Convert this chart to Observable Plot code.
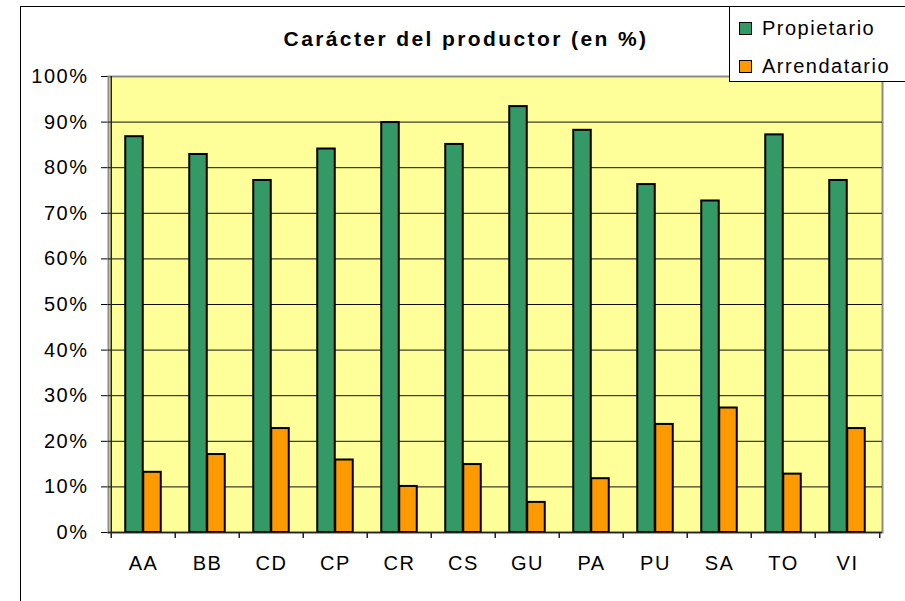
<!DOCTYPE html>
<html>
<head>
<meta charset="utf-8">
<script src="https://cdn.jsdelivr.net/npm/d3@7"></script>
<script src="https://cdn.jsdelivr.net/npm/@observablehq/plot@0.6"></script>
<style>
  body { margin: 0; background: #fff; }
  #wrap { position: relative; width: 905px; height: 601px; overflow: hidden; font-family: "Liberation Sans", Arial, sans-serif; }
  #wrap svg { position: absolute; left: 0; top: 0; }
  #border { position: absolute; left: 20px; top: 6px; width: 1000px; height: 1000px; border: 1.5px solid #000; box-sizing: border-box; }
  #title { position: absolute; left: 266px; width: 400px; top: 27px; text-align: center; font-weight: bold; font-size: 21px; letter-spacing: 2.4px; color: #000; }
  #legend { position: absolute; left: 729px; top: 6px; width: 200px; height: 76px; border: 1.5px solid #000; background: #fff; box-sizing: border-box; }
  .item { position: absolute; left: 9px; font-size: 20px; letter-spacing: 1.5px; line-height: 20px; }
  .sw { position: absolute; left: 0; width: 13px; height: 13px; border: 1.5px solid #000; box-sizing: border-box; }
</style>
</head>
<body>
<div id="wrap">
  <div id="border"></div>
</div>
<script>
const categories = ["AA","BB","CD","CP","CR","CS","GU","PA","PU","SA","TO","VI"];
const propietario = [86.8, 82.9, 77.2, 84.1, 89.9, 85.1, 93.4, 88.2, 76.3, 72.7, 87.2, 77.2];
const arrendatario = [13.2, 17.1, 22.8, 15.9, 10.1, 14.9, 6.6, 11.8, 23.7, 27.3, 12.8, 22.8];
const seriesNames = ["Propietario", "Arrendatario"];
const seriesColors = ["#339966", "#FF9900"];
const yTicks = [0,10,20,30,40,50,60,70,80,90,100];
const title = "Carácter del productor (en %)";

const data = categories.map((c, i) => ({cat: c, prop: propietario[i], arr: arrendatario[i]}));

const W = 905, H = 601, mL = 108, mR = 23, mT = 76, mB = 69;
const bw = (W - mL - mR) / categories.length;
const barW = 18;
const outer = (bw - 2 * barW) / 2;

const chart = Plot.plot({
  width: W, height: H,
  marginLeft: mL, marginRight: mR, marginTop: mT, marginBottom: mB,
  style: {fontFamily: "'Liberation Sans', Arial, sans-serif", fontSize: "20px", letterSpacing: "1.5px", color: "#000", background: "transparent"},
  x: {domain: categories, padding: 0, tickSize: 0, tickPadding: 23, label: null},
  y: {domain: [0, 100], ticks: yTicks, tickFormat: d => d + "%", tickSize: 7, tickPadding: 13, label: null},
  marks: [
    Plot.frame({fill: "#FFFF99", stroke: "#8c8c8c", strokeWidth: 2}),
    Plot.ruleY(yTicks.filter(d => d < 100), {stroke: "#111", strokeWidth: 1}),
    Plot.barY(data, {x: "cat", y: "prop", fill: seriesColors[0], stroke: "#000", strokeWidth: 2, insetLeft: outer, insetRight: outer + barW}),
    Plot.barY(data, {x: "cat", y: "arr", fill: seriesColors[1], stroke: "#000", strokeWidth: 2, insetLeft: outer + barW, insetRight: outer}),
    Plot.ruleX([categories[0]], {dx: -bw / 2, y1: 0, y2: 100, stroke: "#222", strokeWidth: 1.5}),
    Plot.ruleX(categories, {dx: -bw / 2, y1: 0, y2: 0, insetBottom: -6, stroke: "#222", strokeWidth: 1.5}),
    Plot.ruleX([categories[categories.length - 1]], {dx: bw / 2, y1: 0, y2: 0, insetBottom: -6, stroke: "#222", strokeWidth: 1.5}),
    Plot.ruleY([0], {stroke: "#222", strokeWidth: 1.5})
  ]
});

const wrap = document.getElementById("wrap");
wrap.appendChild(chart);

const t = document.createElement("div");
t.id = "title";
t.textContent = title;
wrap.appendChild(t);

const leg = document.createElement("div");
leg.id = "legend";
seriesNames.forEach((name, i) => {
  const it = document.createElement("div");
  it.className = "item";
  it.style.top = (11 + i * 38) + "px";
  const sw = document.createElement("span");
  sw.className = "sw";
  sw.style.background = seriesColors[i];
  sw.style.top = "4px";
  it.appendChild(sw);
  const tx = document.createElement("span");
  tx.style.marginLeft = "23px";
  tx.textContent = name;
  it.appendChild(tx);
  leg.appendChild(it);
});
wrap.appendChild(leg);
</script>
</body>
</html>
